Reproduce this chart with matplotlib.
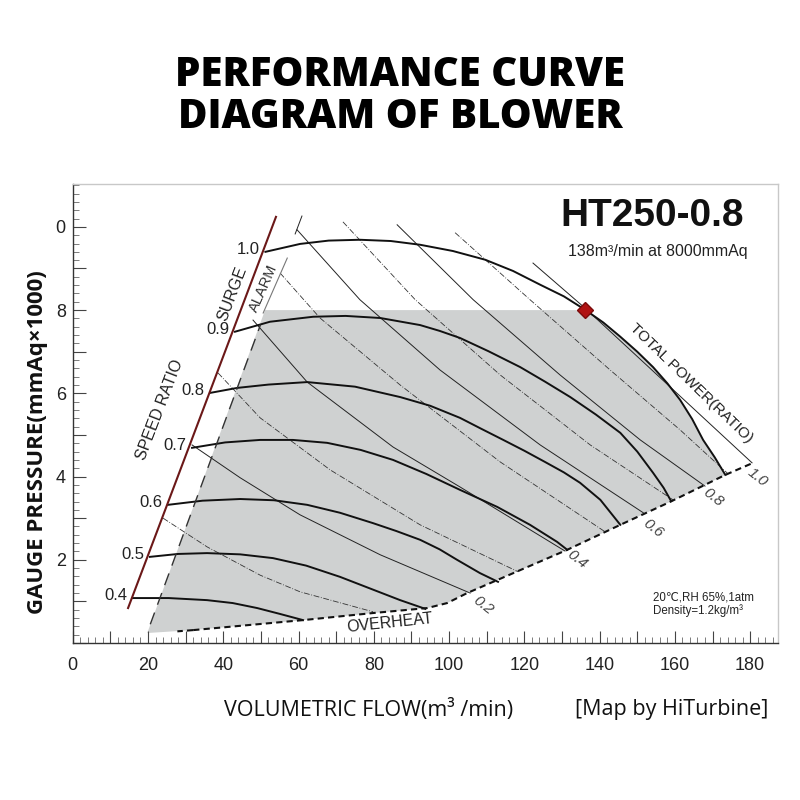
import matplotlib.pyplot as plt
from matplotlib.ticker import MultipleLocator
import numpy as np

plt.rcParams['font.family'] = ['Liberation Sans', 'DejaVu Sans']

# ---- data (flow m3/min, pressure mmAq x 1000) ----
x_tick_vals = [0, 20, 40, 60, 80, 100, 120, 140, 160, 180]
x_tick_text = ['0', '20', '40', '60', '80', '100', '120', '140', '160', '180']
y_tick_vals = [2, 4, 6, 8, 10]
y_tick_text = ['2', '4', '6', '8', '0']

# speed ratio curves
speed_labels = ['1.0', '0.9', '0.8', '0.7', '0.6', '0.5', '0.4']
s10_x = [51.2, 60.4, 68.0, 76.3, 84.5, 92.3, 101.0, 109.6, 117.0, 124.2, 130.5, 136.1,
         141.0, 145.5, 150.0, 154.2, 158.0, 161.4, 164.6, 167.5, 170.6, 173.4]
s10_y = [9.40, 9.59, 9.67, 9.69, 9.66, 9.57, 9.42, 9.21, 8.94, 8.61, 8.33, 8.01,
         7.70, 7.36, 7.00, 6.63, 6.24, 5.84, 5.38, 4.88, 4.46, 4.04]
s09_x = [43.1, 52.4, 63.9, 72.5, 81.7, 92.3, 97.5, 102.9, 110.5, 118.9, 125.5, 132.2,
         139.0, 145.5, 150.0, 154.2, 157.0, 159.0]
s09_y = [7.48, 7.72, 7.84, 7.86, 7.81, 7.64, 7.50, 7.33, 7.01, 6.63, 6.28, 5.91,
         5.49, 5.05, 4.60, 4.09, 3.73, 3.41]
s08_x = [36.5, 43.7, 52.0, 62.3, 75.0, 87.0, 95.0, 102.9, 108.5, 114.4, 120.0, 125.5,
         130.5, 134.8, 140.2, 145.5]
s08_y = [6.01, 6.13, 6.21, 6.27, 6.16, 5.91, 5.70, 5.41, 5.15, 4.88, 4.62, 4.35,
         4.10, 3.85, 3.44, 2.84]
s07_x = [31.7, 40.5, 49.8, 58.5, 67.6, 76.5, 85.1, 94.0, 102.9, 112.8, 121.5, 128.7, 131.4]
s07_y = [4.69, 4.82, 4.88, 4.88, 4.81, 4.64, 4.40, 4.06, 3.68, 3.27, 2.84, 2.43, 2.24]
s06_x = [25.3, 34.5, 44.5, 53.5, 62.3, 71.0, 79.8, 86.0, 92.3, 97.5, 102.1, 108.2, 113.0]
s06_y = [3.32, 3.42, 3.46, 3.43, 3.32, 3.13, 2.88, 2.69, 2.48, 2.25, 2.00, 1.68, 1.47]
s05_x = [20.5, 28.0, 35.7, 44.5, 53.2, 62.0, 71.0, 79.0, 87.0, 93.7]
s05_y = [2.07, 2.14, 2.16, 2.13, 2.04, 1.86, 1.59, 1.31, 1.03, 0.82]
s04_x = [15.8, 25.5, 35.7, 42.5, 49.0, 55.0, 61.2]
s04_y = [1.08, 1.08, 1.03, 0.96, 0.84, 0.70, 0.55]

# total power ratio lines
p01_x = [24.0, 35.7, 49.8, 60.4, 79.8]
p01_y = [3.00, 2.31, 1.63, 1.23, 0.75]
p02_x = [31.7, 44.5, 60.4, 81.7, 105.6]
p02_y = [4.76, 3.97, 3.08, 2.12, 1.20]
p03_x = [38.6, 49.8, 68.4, 92.3, 118.4]
p03_y = [6.49, 5.41, 4.16, 2.84, 1.71]
p04_x = [47.9, 62.3, 85.1, 102.9, 130.8]
p04_y = [7.76, 6.27, 4.71, 3.75, 2.21]
p05_x = [55.1, 65.7, 87.0, 113.6, 141.5]
p05_y = [8.89, 7.81, 6.20, 4.35, 2.67]
p06_x = [59.6, 76.3, 97.6, 124.2, 151.6]
p06_y = [9.93, 8.25, 6.56, 4.76, 3.13]
p07_x = [71.8, 91.0, 113.6, 137.5, 159.5]
p07_y = [10.12, 8.25, 6.44, 4.76, 3.44]
p08_x = [86.2, 106.4, 129.5, 150.8, 168.0]
p08_y = [10.05, 8.25, 6.44, 4.88, 3.77]
p09_x = [101.6, 121.5, 142.8, 161.4, 174.2]
p09_y = [9.86, 8.25, 6.56, 5.12, 4.06]
p10_x = [122.3, 136.1, 180.5]
p10_y = [9.13, 8.05, 4.33]
power_labels = ['0.2', '0.4', '0.6', '0.8', '1.0']
power_label_x = [109.0, 134.0, 154.2, 170.2, 181.9]
power_label_y = [0.91, 2.00, 2.76, 3.51, 3.97]

# lower limit (overheat / power) boundary
bound_x = [32.0, 61.2, 79.8, 94.2, 99.5, 104.8, 131.4, 145.5, 158.7, 173.4, 180.8]
bound_y = [0.31, 0.55, 0.72, 0.84, 0.96, 1.20, 2.24, 2.84, 3.39, 4.04, 4.33]

# surge and alarm lines
surge_x = [14.7, 54.0]
surge_y = [0.84, 10.24]
alarm_dash_x = [20.6, 49.9]
alarm_dash_y = [0.45, 7.65]
alarm_x = [50.6, 57.0]
alarm_y = [7.93, 9.25]

# operating envelope corners
env_left_x = [19.8, 51.1]
env_left_y = [0.24, 8.0]
rated_x = 136.1
rated_y = 8.0

# ---- figure ----
fig = plt.figure(figsize=(8, 8), dpi=100)
ax = fig.add_axes([72.75 / 800, 1 - 643 / 800, (778 - 72.75) / 800, (643 - 184) / 800])
ax.set_xlim(0, 187.4)
ax.set_ylim(0, 11.03)

# shaded envelope: left edge, top at 8000, down the 1.0 curve, back along the boundary
k = s10_x.index(rated_x)
poly_x = env_left_x + [rated_x] + s10_x[k + 1:] + bound_x[-3::-1] + [env_left_x[0]]
poly_y = env_left_y + [rated_y] + s10_y[k + 1:] + bound_y[-3::-1] + [env_left_y[0]]
ax.fill(poly_x, poly_y, color='#cfd1d1', zorder=1, lw=0)

# power lines
power = [(p01_x, p01_y), (p02_x, p02_y), (p03_x, p03_y), (p04_x, p04_y), (p05_x, p05_y),
         (p06_x, p06_y), (p07_x, p07_y), (p08_x, p08_y), (p09_x, p09_y), (p10_x, p10_y)]
for i, (px, py) in enumerate(power):
    if i % 2 == 0:
        ax.plot(px, py, color='#333333', lw=0.6, ls=(0, (7, 2, 1, 2)), zorder=2)
    else:
        ax.plot(px, py, color='#222222', lw=0.7, zorder=2)
# small tick on top of the 0.6 line
ax.plot([60.9, 59.1], [10.26, 9.83], color='#222222', lw=0.7, zorder=2)

# speed curves
speeds = [(s10_x, s10_y), (s09_x, s09_y), (s08_x, s08_y), (s07_x, s07_y),
          (s06_x, s06_y), (s05_x, s05_y), (s04_x, s04_y)]
for lbl, (sx, sy) in zip(speed_labels, speeds):
    ax.plot(sx, sy, color='#111111', lw=1.4, zorder=3, solid_joinstyle='round')
    ax.text(sx[0] - 1.4, sy[0] + 0.06, lbl, ha='right', va='center', fontsize=12, color='#222222')

# boundary
ax.plot(bound_x, bound_y, color='#111111', lw=1.5, ls=(0, (3, 2)), zorder=3)
ax.plot([bound_x[0], env_left_x[0] + 8], [bound_y[0], 0.28], color='#111111', lw=1.5,
        ls=(0, (3, 2)), zorder=3)
for lbl, lx, ly in zip(power_labels, power_label_x, power_label_y):
    ax.text(lx, ly, lbl, ha='center', va='center', fontsize=11, rotation=-38,
            color='#444444', style='italic')

# surge / alarm
ax.plot(surge_x, surge_y, color='#6b1818', lw=1.5, zorder=4)
ax.plot(alarm_dash_x, alarm_dash_y, color='#333333', lw=1.0, ls=(0, (9, 6)), zorder=3)
ax.plot(alarm_x, alarm_y, color='#777777', lw=0.8, zorder=3)

ax.text(42.4, 8.40, 'SURGE', rotation=69, ha='center', va='center', fontsize=11.5, color='#222222')
ax.text(50.8, 8.52, 'ALARM', rotation=66, ha='center', va='center', fontsize=10.5, color='#333333')
ax.text(23.2, 5.60, 'SPEED RATIO', rotation=69, ha='center', va='center', fontsize=11.5, color='#222222')
ax.text(84.3, 0.48, 'OVERHEAT', rotation=6, ha='center', va='center', fontsize=11.5, color='#222222')
ax.text(164.3, 6.25, 'TOTAL POWER(RATIO)', rotation=-44, ha='center', va='center', fontsize=11,
        color='#222222')

# rated point
ax.plot([rated_x], [rated_y], marker='D', ms=8, color='#b01212', mec='#7a0a0a', zorder=5)

# model text
ax.text(0.822, 0.93, 'HT250-0.8', transform=ax.transAxes, ha='center', va='center',
        fontsize=28, fontweight='bold', color='#111111')
ax.text(0.829, 0.852, '138m³/min at 8000mmAq', transform=ax.transAxes, ha='center', va='center',
        fontsize=11.5, color='#222222')
ax.text(0.823, 0.085, '20℃,RH 65%,1atm\nDensity=1.2kg/m³', transform=ax.transAxes, ha='left',
        va='center', fontsize=8.3, color='#222222', linespacing=1.1)

# axes styling
for side in ['left', 'bottom']:
    ax.spines[side].set_color('#333333')
    ax.spines[side].set_linewidth(1.0)
for side in ['top', 'right']:
    ax.spines[side].set_color('#c8c8c8')
    ax.spines[side].set_linewidth(1.0)

ax.set_xticks(np.arange(0, 181, 10))
ax.set_xticklabels([x_tick_text[x_tick_vals.index(v)] if v in x_tick_vals else ''
                    for v in range(0, 181, 10)])
ax.xaxis.set_minor_locator(MultipleLocator(2))
ax.set_yticks(np.arange(0, 11, 1))
ax.set_yticklabels([y_tick_text[y_tick_vals.index(v)] if v in y_tick_vals else ''
                    for v in range(0, 11)])
ax.yaxis.set_minor_locator(MultipleLocator(0.2))
ax.tick_params(which='major', direction='in', length=9, width=0.8, color='#444444')
ax.tick_params(which='minor', direction='in', length=4, width=0.6, color='#666666')
ax.tick_params(axis='x', which='major', pad=10, labelsize=13, labelcolor='#222222')
ax.tick_params(axis='y', which='major', pad=5, labelsize=13, labelcolor='#222222')

# titles and axis captions
fig.text(0.5, 1 - 75 / 800, 'PERFORMANCE CURVE', ha='center', va='center', fontsize=29,
         fontweight=800, family='Open Sans', color='black')
fig.text(0.5, 1 - 117 / 800, 'DIAGRAM OF BLOWER', ha='center', va='center', fontsize=29,
         fontweight=800, family='Open Sans', color='black')
fig.text(38 / 800, 1 - 442 / 800, 'GAUGE PRESSURE(mmAq×1000)', rotation=90, ha='center',
         va='center', fontsize=16, fontweight='bold', family='Open Sans', color='#111111')
fig.text(369 / 800, 1 - 710 / 800, 'VOLUMETRIC FLOW(m³ /min)', ha='center', va='center',
         fontsize=15.5, family='Open Sans', color='#111111')
fig.text(672 / 800, 1 - 710 / 800, '[Map by HiTurbine]', ha='center', va='center',
         fontsize=15.5, family='Open Sans', color='#111111')

fig.savefig('out.png', dpi=100, facecolor='white')
